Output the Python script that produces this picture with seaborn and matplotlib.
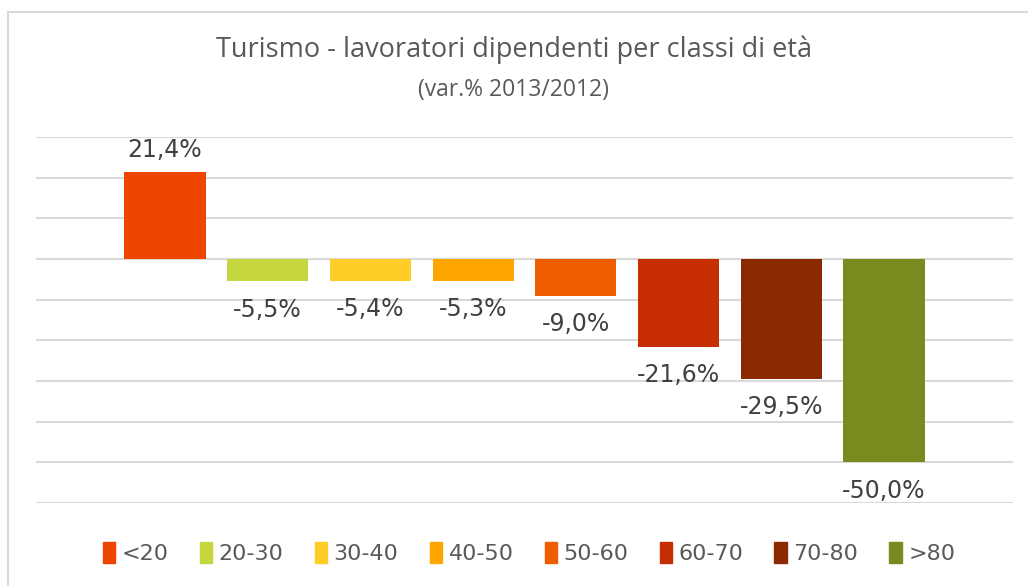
import numpy as np
import matplotlib
matplotlib.use("Agg")
import matplotlib.pyplot as plt
import matplotlib.patches as mpatches
import pandas as pd
import seaborn as sns

# data
classi = ["<20", "20-30", "30-40", "40-50", "50-60", "60-70", "70-80", ">80"]
variazioni = [21.4, -5.5, -5.4, -5.3, -9.0, -21.6, -29.5, -50.0]
colori = ["#EE4500", "#C5D63E", "#FFCD28", "#FFA500", "#EE5E00", "#C62D00", "#8B2A00", "#7B8A1E"]

df = pd.DataFrame({"classe": classi, "var": variazioni})

sns.set_style("white")
plt.rcParams["font.family"] = ["DejaVu Sans"]

fig = plt.figure(figsize=(10.28, 5.86), dpi=100)
ax = fig.add_axes([36 / 1028, 1 - 503 / 586, 977 / 1028, 366 / 586])

sns.barplot(data=df, x="classe", y="var", hue="classe", palette=colori, saturation=1,
            width=0.79, dodge=False, legend=False, linewidth=0, ax=ax)

ax.set_ylim(-60, 30)
ax.set_xlim(-1.256, 8.256)
ax.set_yticks(np.arange(-60, 31, 10))
ax.yaxis.grid(True, color="#D9D9D9", linewidth=1.5)
ax.set_axisbelow(True)
ax.set_xticks([])
ax.set_yticklabels([])
ax.tick_params(left=False, bottom=False)
ax.set_xlabel("")
ax.set_ylabel("")
for s in ax.spines.values():
    s.set_visible(False)

# data labels
for i, v in enumerate(variazioni):
    txt = f"{v:.1f}%".replace(".", ",")
    off = 5.4 if v > 0 else -7.0
    ax.text(i, v + off, txt, ha="center", va="center", fontsize=17, color="#404040")

# title
narrow = ["Liberation Sans Narrow", "Open Sans", "DejaVu Sans"]
fig.text(0.5, 1 - 50 / 586, "Turismo - lavoratori dipendenti per classi di età",
         ha="center", va="center", fontsize=19.5, family=narrow, color="#595959")
fig.text(0.5, 1 - 90 / 586, "(var.% 2013/2012)", ha="center", va="center", fontsize=16.5,
         family=narrow, color="#595959")

# legend
handles = [mpatches.Patch(color=c, label=l) for c, l in zip(colori, classi)]
fig.legend(handles=handles, loc="center", bbox_to_anchor=(529 / 1028, 1 - 553 / 586),
           ncol=8, frameon=False, handlelength=0.55, handleheight=1.1, handletextpad=0.3,
           columnspacing=1.4, prop={"family": ["DejaVu Sans"], "size": 16},
           labelcolor="#595959")

# outer chart border
fig.patches.append(mpatches.Rectangle((8 / 1028, -0.05), 1.05, 1.05 - 12 / 586,
                                      transform=fig.transFigure, fill=False,
                                      edgecolor="#D9D9D9", linewidth=1.5))

fig.savefig("out.png", dpi=100)
